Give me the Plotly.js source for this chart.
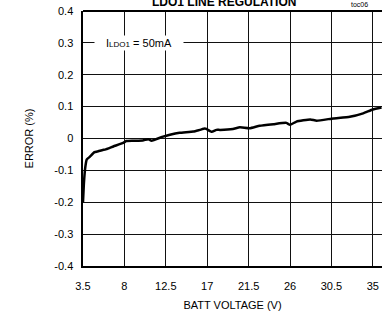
<!DOCTYPE html>
<html>
<head>
<meta charset="utf-8">
<script src="https://cdn.plot.ly/plotly-3.0.1.min.js"></script>
<style>html,body{margin:0;padding:0;background:#fff;}#chart{width:382px;height:318px;}</style>
</head>
<body>
<div id="chart"></div>
<script>
const battVoltage = [3.5, 3.6, 3.75, 3.9, 4.26, 4.75, 5.16, 5.65, 5.9, 6.8, 7.87, 8.2, 8.96, 10.0, 10.6, 10.95, 12.2, 12.95, 14.0, 15.5, 16.2, 16.75, 16.9, 17.5, 18.0, 18.4, 19.8, 20.55, 21.6, 22.7, 24.2, 25.6, 26.0, 26.7, 28.2, 28.9, 30.7, 32.5, 33.95, 35.0, 35.95];
const errorPct = [-0.2, -0.14, -0.09, -0.066, -0.057, -0.043, -0.040, -0.036, -0.035, -0.025, -0.014, -0.008, -0.007, -0.006, -0.002, -0.007, 0.006, 0.012, 0.018, 0.022, 0.027, 0.031, 0.030, 0.021, 0.027, 0.027, 0.030, 0.035, 0.032, 0.040, 0.045, 0.049, 0.043, 0.053, 0.060, 0.056, 0.063, 0.068, 0.079, 0.091, 0.097];
const xTicks = [3.5, 8, 12.5, 17, 21.5, 26, 30.5, 35];
const xTickLabels = ["3.5", "8", "12.5", "17", "21.5", "26", "30.5", "35"];
const yTicks = [-0.4, -0.3, -0.2, -0.1, 0, 0.1, 0.2, 0.3, 0.4];
const yTickLabels = ["-0.4", "-0.3", "-0.2", "-0.1", "0", "0.1", "0.2", "0.3", "0.4"];

const font = {family: "Liberation Sans, Arial, sans-serif", size: 11, color: "#000"};

const trace = {
  x: battVoltage, y: errorPct, type: "scatter", mode: "lines",
  line: {color: "#000", width: 2.5, shape: "spline", smoothing: 0.4},
  hoverinfo: "skip"
};

const layout = {
  width: 382, height: 318,
  margin: {l: 83, r: 0, t: 10.5, b: 51.5, pad: 0},
  paper_bgcolor: "#fff", plot_bgcolor: "#fff",
  font: font,
  showlegend: false,
  xaxis: {
    range: [3.5, 36], tickvals: xTicks, ticktext: xTickLabels,
    showgrid: true, gridcolor: "#111", gridwidth: 1,
    zeroline: false, showline: true, linecolor: "#000", linewidth: 2, mirror: false,
    ticks: "outside", ticklen: 9, tickcolor: "rgba(0,0,0,0)",
    tickfont: font, fixedrange: true,
    title: {text: "BATT VOLTAGE (V)", font: font, standoff: 10}
  },
  yaxis: {
    range: [-0.4, 0.4], tickvals: yTicks, ticktext: yTickLabels,
    showgrid: true, gridcolor: "#111", gridwidth: 1,
    zeroline: false, showline: true, linecolor: "#000", linewidth: 2.5,
    ticks: "outside", ticklen: 5, tickcolor: "rgba(0,0,0,0)",
    tickfont: font, fixedrange: true,
    title: {text: "ERROR (%)", font: font, standoff: 19}
  },
  shapes: [
    {type: "line", xref: "paper", yref: "paper", x0: 0, x1: 1, y0: 1, y1: 1, line: {color: "#000", width: 2}}
  ],
  annotations: [
    {xref: "x", yref: "y", x: 9.6, y: 0.3, text: "I<span style='font-size:8px'>LDO1</span> = 50mA",
     showarrow: false, bgcolor: "#fff", width: 88, height: 14, borderpad: 0, font: {family: font.family, size: 11, color: "#000"}},
    {xref: "paper", yref: "paper", x: 0.47, y: 1, yanchor: "bottom", yshift: 0, text: "<b>LDO1 LINE REGULATION</b>",
     showarrow: false, font: {family: font.family, size: 12, color: "#000"}},
    {xref: "paper", yref: "paper", x: 0.96, y: 1, yanchor: "bottom", yshift: 1, text: "toc06",
     showarrow: false, font: {family: font.family, size: 7, color: "#000"}}
  ]
};

Plotly.newPlot("chart", [trace], layout, {staticPlot: true, displayModeBar: false});
</script>
</body>
</html>
